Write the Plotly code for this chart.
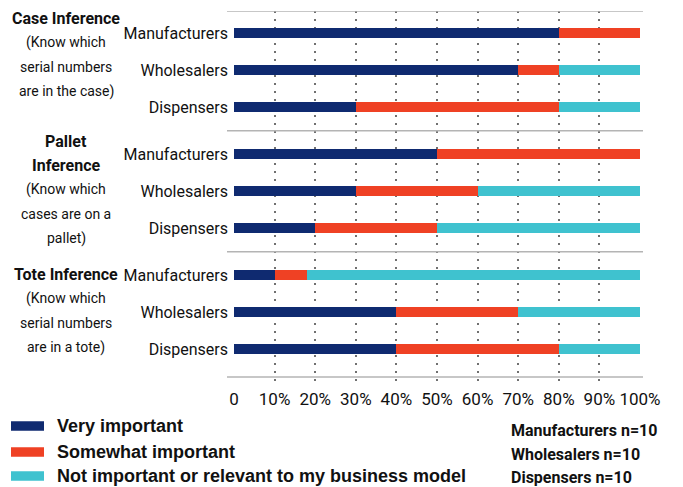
import plotly.graph_objects as go

# --- data -------------------------------------------------------------
groups = ["Case Inference", "Pallet Inference", "Tote Inference"]
group_lines = [
    ["<b>Case Inference</b>", "(Know which", "serial numbers", "are in the case)"],
    ["<b>Pallet</b>", "<b>Inference</b>", "(Know which", "cases are on a", "pallet)"],
    ["<b>Tote Inference</b>", "(Know which", "serial numbers", "are in a tote)"],
]
roles = ["Manufacturers", "Wholesalers", "Dispensers"]

very_important = [80, 70, 30, 50, 30, 20, 10, 40, 40]
somewhat_important = [20, 10, 50, 50, 30, 30, 8, 30, 40]
not_important = [0, 20, 20, 0, 40, 50, 82, 30, 20]

series_names = [
    "Very important",
    "Somewhat important",
    "Not important or relevant to my business model",
]
sample_sizes = ["Manufacturers n=10", "Wholesalers n=10", "Dispensers n=10"]

x_ticks = [0, 10, 20, 30, 40, 50, 60, 70, 80, 90, 100]
x_tick_text = ["0", "10%", "20%", "30%", "40%", "50%", "60%", "70%", "80%", "90%", "100%"]

# --- styling ----------------------------------------------------------
colors = ["#0f2a70", "#ef4124", "#3fc2cf"]
NARROW = "Roboto, Liberation Sans, sans-serif"
WIDE = "Liberation Sans, Arial, sans-serif"
INK = "#111111"

W, H = 683, 487
M_L, M_R, M_T, M_B = 234, 43, 11, 104
PLOT_W = W - M_L - M_R
PLOT_H = H - M_T - M_B

GROUP_PITCH = 3.27  # rows between group starts
y_pos = [g * GROUP_PITCH + r for g in range(len(groups)) for r in range(len(roles))]
y_text = [roles[r] for g in range(len(groups)) for r in range(len(roles))]

ROW_PX = 37.0
y_top = y_pos[0] - 0.6
y_bottom_range = y_top + PLOT_H / ROW_PX
y_bottom_line = y_pos[-1] + 0.75


def px_x(px):
    return (px - M_L) / PLOT_W


def px_y(py):
    return (M_T + PLOT_H - py) / PLOT_H


fig = go.Figure()
for name, vals, col in zip(series_names, [very_important, somewhat_important, not_important], colors):
    fig.add_trace(go.Bar(
        x=vals, y=y_pos, orientation="h", name=name,
        marker=dict(color=col, line=dict(width=0)),
        width=0.27, showlegend=False,
        hovertemplate="%{x}%<extra>" + name + "</extra>",
    ))

shapes = []
# horizontal rules: top, between groups, bottom
rule_ys = [y_top]
for g in range(1, len(groups)):
    last_prev = y_pos[g * len(roles) - 1]
    first_next = y_pos[g * len(roles)]
    rule_ys.append((last_prev + first_next) / 2)
rule_ys.append(y_bottom_line)
for ry in rule_ys:
    shapes.append(dict(type="line", xref="paper", yref="y",
                       x0=px_x(227), x1=px_x(643), y0=ry, y1=ry,
                       line=dict(color="#b4b4b4", width=1.6)))

annotations = []
# group captions on the far left
caption_start = [-0.405, -0.35, -0.027]
line_step = 0.657
for g, lines in enumerate(group_lines):
    base = y_pos[g * len(roles)] + caption_start[g]
    for i, txt in enumerate(lines):
        bold = txt.startswith("<b>")
        annotations.append(dict(
            xref="paper", yref="y", x=px_x(66), y=base + i * line_step,
            text=txt, showarrow=False, xanchor="center", yanchor="middle",
            font=dict(family=NARROW, size=16 if bold else 14, color=INK),
        ))

# legend swatches and labels
legend_centers = [426, 452, 476]
for name, col, cy in zip(series_names, colors, legend_centers):
    shapes.append(dict(type="rect", xref="paper", yref="paper",
                       x0=px_x(11), x1=px_x(44), y0=px_y(cy - 4.8), y1=px_y(cy + 4.8),
                       fillcolor=col, line=dict(width=0)))
    annotations.append(dict(
        xref="paper", yref="paper", x=px_x(55), y=px_y(cy),
        text="<b>" + name + "</b>", showarrow=False, xanchor="left", yanchor="middle",
        font=dict(family=WIDE, size=18, color=INK),
    ))

# sample sizes
for txt, cy in zip(sample_sizes, [431, 454, 477]):
    annotations.append(dict(
        xref="paper", yref="paper", x=px_x(509), y=px_y(cy),
        text="<b>" + txt + "</b>", showarrow=False, xanchor="left", yanchor="middle",
        font=dict(family=NARROW, size=16, color=INK),
    ))

fig.update_layout(
    width=W, height=H,
    margin=dict(l=M_L, r=M_R, t=M_T, b=M_B, pad=0),
    barmode="stack",
    plot_bgcolor="white", paper_bgcolor="white",
    font=dict(family=NARROW, color=INK),
    shapes=shapes, annotations=annotations,
    xaxis=dict(
        range=[0, 100], tickvals=x_ticks, ticktext=x_tick_text, tickangle=0,
        showgrid=True, gridcolor="#707070", gridwidth=2, griddash="2px,6px",
        zeroline=False, showline=False, ticks="",
        tickfont=dict(family=NARROW, size=17, color=INK),
        ticklabelstandoff=4,
    ),
    yaxis=dict(
        range=[y_bottom_range, y_top], tickvals=y_pos, ticktext=y_text,
        showgrid=False, zeroline=False, showline=False, ticks="",
        tickfont=dict(family=NARROW, size=16, color=INK),
        ticklabelstandoff=5,
    ),
)

fig.write_html("out.html")
